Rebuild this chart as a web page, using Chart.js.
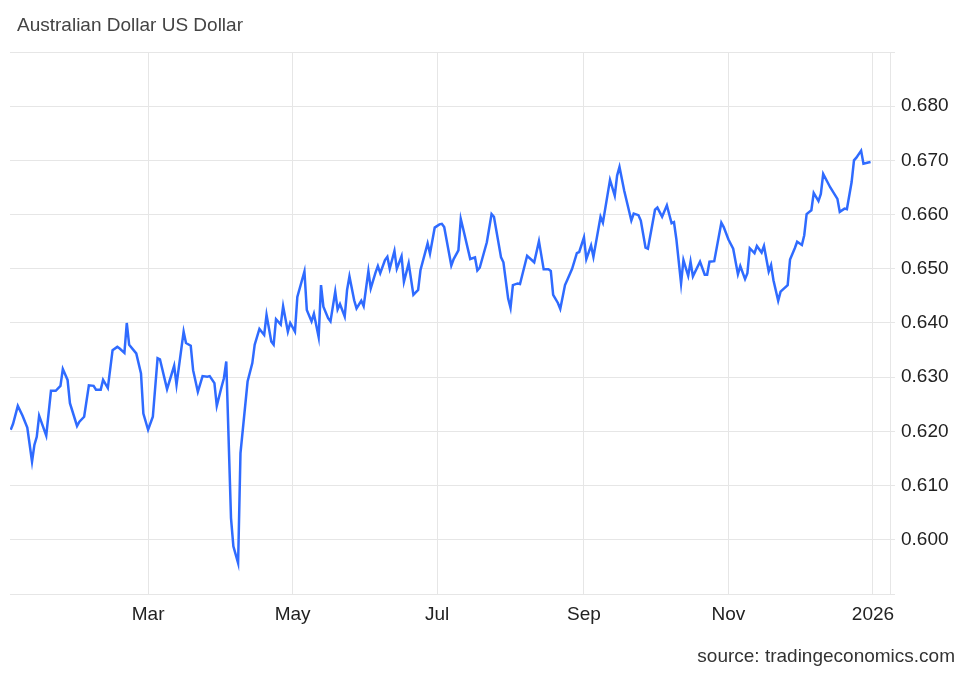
<!DOCTYPE html>
<html>
<head>
<meta charset="utf-8">
<script src="https://cdn.jsdelivr.net/npm/chart.js@4.4.1/dist/chart.umd.min.js"></script>
<style>
  html, body { margin: 0; padding: 0; background: #ffffff; }
  #wrap { position: relative; width: 973px; height: 675px; }
  #title { position: absolute; left: 17px; top: 14px; font: 19px "Liberation Sans", Arial, sans-serif; color: #444; white-space: nowrap; }
  #source { position: absolute; right: 18px; top: 645px; font: 19px "Liberation Sans", Arial, sans-serif; color: #333; white-space: nowrap; }
  canvas { position: absolute; left: 0; top: 0; }
</style>
</head>
<body>
<div id="wrap">
  <canvas id="c" width="973" height="675"></canvas>
  <div id="title">Australian Dollar US Dollar</div>
  <div id="source">source: tradingeconomics.com</div>
</div>
<script>
const dates = [
  "2025-01-02","2025-01-03","2025-01-05","2025-01-07","2025-01-09","2025-01-11","2025-01-12","2025-01-13","2025-01-14","2025-01-17",
  "2025-01-19","2025-01-21","2025-01-23","2025-01-24","2025-01-26","2025-01-27","2025-01-30","2025-01-31","2025-02-02","2025-02-04",
  "2025-02-06","2025-02-07","2025-02-09","2025-02-10","2025-02-12","2025-02-14","2025-02-16","2025-02-17","2025-02-19","2025-02-20",
  "2025-02-21","2025-02-24","2025-02-26","2025-02-27","2025-03-01","2025-03-03","2025-03-05","2025-03-06","2025-03-09","2025-03-12",
  "2025-03-13","2025-03-16","2025-03-17","2025-03-19","2025-03-20","2025-03-22","2025-03-24","2025-03-26","2025-03-27","2025-03-29",
  "2025-03-30","2025-04-01","2025-04-02","2025-04-03","2025-04-05","2025-04-06","2025-04-08","2025-04-09","2025-04-12","2025-04-14",
  "2025-04-15","2025-04-17","2025-04-19","2025-04-20","2025-04-22","2025-04-23","2025-04-24","2025-04-26","2025-04-27","2025-04-29",
  "2025-04-30","2025-05-02","2025-05-03","2025-05-06","2025-05-07","2025-05-09","2025-05-10","2025-05-12","2025-05-13","2025-05-14",
  "2025-05-16","2025-05-17","2025-05-19","2025-05-20","2025-05-21","2025-05-23","2025-05-24","2025-05-25","2025-05-27","2025-05-28",
  "2025-05-30","2025-05-31","2025-06-02","2025-06-03","2025-06-05","2025-06-06","2025-06-07","2025-06-09","2025-06-10","2025-06-11",
  "2025-06-13","2025-06-14","2025-06-16","2025-06-17","2025-06-19","2025-06-21","2025-06-23","2025-06-24","2025-06-27","2025-06-28",
  "2025-06-30","2025-07-02","2025-07-03","2025-07-04","2025-07-07","2025-07-08","2025-07-10","2025-07-11","2025-07-12","2025-07-15",
  "2025-07-17","2025-07-18","2025-07-19","2025-07-22","2025-07-24","2025-07-25","2025-07-28","2025-07-29","2025-07-31","2025-08-01",
  "2025-08-02","2025-08-04","2025-08-05","2025-08-08","2025-08-11","2025-08-13","2025-08-15","2025-08-17","2025-08-18","2025-08-19",
  "2025-08-21","2025-08-22","2025-08-24","2025-08-25","2025-08-27","2025-08-29","2025-08-30","2025-09-01","2025-09-02","2025-09-04",
  "2025-09-05","2025-09-08","2025-09-09","2025-09-12","2025-09-14","2025-09-15","2025-09-16","2025-09-18","2025-09-21","2025-09-22",
  "2025-09-24","2025-09-25","2025-09-27","2025-09-28","2025-10-01","2025-10-02","2025-10-04","2025-10-06","2025-10-08","2025-10-09",
  "2025-10-10","2025-10-12","2025-10-13","2025-10-15","2025-10-16","2025-10-17","2025-10-20","2025-10-22","2025-10-23","2025-10-24",
  "2025-10-26","2025-10-29","2025-10-30","2025-11-01","2025-11-03","2025-11-05","2025-11-06","2025-11-08","2025-11-09","2025-11-10",
  "2025-11-12","2025-11-13","2025-11-15","2025-11-16","2025-11-18","2025-11-19","2025-11-20","2025-11-22","2025-11-23","2025-11-26",
  "2025-11-27","2025-11-29","2025-11-30","2025-12-02","2025-12-03","2025-12-04","2025-12-06","2025-12-07","2025-12-09","2025-12-10",
  "2025-12-11","2025-12-14","2025-12-17","2025-12-18","2025-12-20","2025-12-21","2025-12-23","2025-12-24","2025-12-25","2025-12-27",
  "2025-12-28","2025-12-30","2025-12-31"
];
const audusd = [
  0.6203,0.6214,0.6247,0.6229,0.6207,0.6144,0.6175,0.6190,0.6229,0.6192,
  0.6275,0.6275,0.6284,0.6315,0.6295,0.6252,0.6210,0.6218,0.6227,0.6285,
  0.6284,0.6277,0.6277,0.6295,0.6280,0.6350,0.6356,0.6353,0.6345,0.6400,
  0.6360,0.6344,0.6307,0.6233,0.6203,0.6227,0.6335,0.6333,0.6278,0.6321,
  0.6286,0.6384,0.6363,0.6358,0.6313,0.6273,0.6302,0.6301,0.6302,0.6289,
  0.6247,0.6282,0.6298,0.6329,0.6040,0.5988,0.5957,0.6160,0.6292,0.6326,
  0.6360,0.6389,0.6378,0.6415,0.6366,0.6360,0.6407,0.6397,0.6431,0.6384,
  0.6400,0.6384,0.6448,0.6495,0.6424,0.6403,0.6417,0.6374,0.6470,0.6430,
  0.6409,0.6403,0.6458,0.6425,0.6435,0.6412,0.6461,0.6486,0.6442,0.6427,
  0.6441,0.6431,0.6496,0.6464,0.6493,0.6505,0.6492,0.6516,0.6522,0.6500,
  0.6533,0.6500,0.6523,0.6476,0.6510,0.6452,0.6461,0.6498,0.6547,0.6528,
  0.6576,0.6582,0.6583,0.6577,0.6506,0.6518,0.6534,0.6592,0.6574,0.6518,
  0.6521,0.6497,0.6502,0.6549,0.6601,0.6596,0.6521,0.6512,0.6445,0.6428,
  0.6470,0.6473,0.6472,0.6524,0.6512,0.6551,0.6499,0.6499,0.6496,0.6452,
  0.6437,0.6426,0.6470,0.6480,0.6500,0.6529,0.6531,0.6558,0.6518,0.6543,
  0.6522,0.6596,0.6585,0.6664,0.6635,0.6672,0.6688,0.6644,0.6589,0.6602,
  0.6599,0.6589,0.6539,0.6537,0.6609,0.6613,0.6596,0.6617,0.6584,0.6586,
  0.6555,0.6473,0.6516,0.6487,0.6513,0.6486,0.6513,0.6489,0.6489,0.6513,
  0.6514,0.6585,0.6577,0.6554,0.6537,0.6490,0.6505,0.6481,0.6492,0.6538,
  0.6529,0.6542,0.6530,0.6542,0.6495,0.6507,0.6479,0.6441,0.6458,0.6470,
  0.6517,0.6538,0.6550,0.6544,0.6562,0.6601,0.6608,0.6640,0.6625,0.6638,
  0.6675,0.6650,0.6629,0.6605,0.6611,0.6610,0.6660,0.6700,0.6705,0.6718,
  0.6694,0.6696,0.6697
];
const tickDates = ["2025-03-01","2025-05-01","2025-07-01","2025-09-01","2025-11-01","2026-01-01"];
const tickLabels = ["Mar","May","Jul","Sep","Nov","2026"];
const yTicks = [0.590,0.600,0.610,0.620,0.630,0.640,0.650,0.660,0.670,0.680,0.690];
const yLabelled = [0.600,0.610,0.620,0.630,0.640,0.650,0.660,0.670,0.680];

const origin = Date.UTC(2025, 0, 1);
function dayOf(s) {
  const p = s.split("-").map(Number);
  return (Date.UTC(p[0], p[1] - 1, p[2]) - origin) / 86400000;
}
const points = dates.map((d, i) => ({ x: dayOf(d), y: audusd[i] }));
const xTickVals = tickDates.map(dayOf);

const FONT = { family: '"Liberation Sans", Arial, sans-serif', size: 19 };
const GRID = '#e6e6e6';

new Chart(document.getElementById('c'), {
  type: 'line',
  data: {
    datasets: [{
      data: points,
      borderColor: '#2f6bff',
      borderWidth: 2.5,
      pointRadius: 0,
      tension: 0,
      fill: false
    }]
  },
  options: {
    responsive: false,
    animation: false,
    devicePixelRatio: 1,
    layout: { padding: { top: 52, left: 10, right: 0, bottom: 41 } },
    plugins: { legend: { display: false }, tooltip: { enabled: false }, title: { display: false } },
    scales: {
      x: {
        type: 'linear',
        min: 0.7,
        max: 372.2,
        afterBuildTicks: (scale) => { scale.ticks = xTickVals.map(v => ({ value: v })); },
        afterFit: (scale) => { scale.height = 40; },
        ticks: {
          autoSkip: false,
          maxRotation: 0,
          padding: 9,
          color: '#222',
          font: FONT,
          callback: (v) => { const i = xTickVals.indexOf(v); return i >= 0 ? tickLabels[i] : ''; }
        },
        grid: { color: GRID, lineWidth: 1, drawTicks: false },
        border: { display: true, color: GRID, width: 1 }
      },
      y: {
        position: 'right',
        min: 0.59,
        max: 0.69,
        afterBuildTicks: (scale) => { scale.ticks = yTicks.map(v => ({ value: v })); },
        afterFit: (scale) => { scale.width = 83; },
        ticks: {
          padding: 6,
          color: '#222',
          font: FONT,
          callback: (v) => {
            const hit = yLabelled.find(t => Math.abs(t - v) < 1e-9);
            return hit !== undefined ? hit.toFixed(3) : '';
          }
        },
        grid: { color: GRID, lineWidth: 1, drawTicks: true, tickLength: 5 },
        border: { display: true, color: GRID, width: 1 }
      }
    }
  }
});
</script>
</body>
</html>
